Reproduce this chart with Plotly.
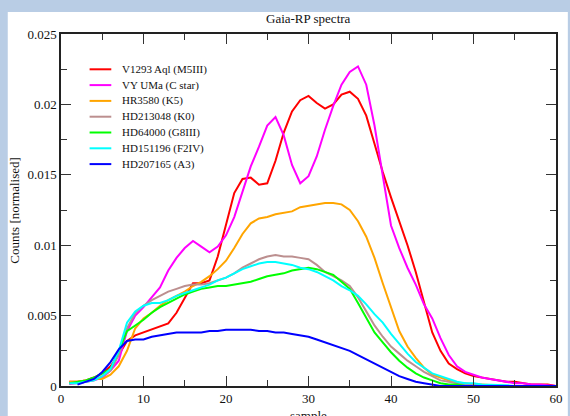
import plotly.graph_objects as go

# Sample index along the dispersed RP spectrum
sample = list(range(1, 61))

# Normalised counts per sample for each star
v1293_aql = [0.0003, 0.0003, 0.0004, 0.0006, 0.0009, 0.0014, 0.0022, 0.0032, 0.0036, 0.0038,
             0.0040, 0.0042, 0.00445, 0.0052, 0.0063, 0.0073, 0.0073, 0.0075, 0.0092, 0.0115,
             0.0137, 0.0147, 0.0148, 0.0143, 0.0144, 0.0160, 0.0180, 0.0195, 0.0203, 0.0206,
             0.0201, 0.0197, 0.0200, 0.0207, 0.0209, 0.0204, 0.0192, 0.0172, 0.0152, 0.0134,
             0.0117, 0.0100, 0.0081, 0.0060, 0.0038, 0.0025, 0.0016, 0.0012, 0.0009, 0.0007,
             0.0006, 0.0005, 0.0004, 0.0003, 0.0003, 0.0002, 0.0001, 0.0001, 0.0001, 0.0]
vy_uma = [0.00015, 0.0002, 0.0003, 0.0004, 0.0006, 0.0011, 0.0018, 0.0039, 0.0050, 0.0056,
          0.0063, 0.0070, 0.0082, 0.0091, 0.0098, 0.0103, 0.0099, 0.0095, 0.0099, 0.0107,
          0.0120, 0.0138, 0.0156, 0.0170, 0.0185, 0.0191, 0.0178, 0.0157, 0.0144, 0.0149,
          0.0163, 0.0182, 0.0199, 0.0214, 0.0223, 0.0227, 0.0214, 0.0185, 0.0148, 0.0114,
          0.0098, 0.0084, 0.0072, 0.0058, 0.0048, 0.0034, 0.0022, 0.0014, 0.0010, 0.0008,
          0.0006, 0.0005, 0.0004, 0.0003, 0.0002, 0.0002, 0.0001, 0.0001, 0.00005, 0.0]
hr3580 = [0.0003, 0.0003, 0.0004, 0.0005, 0.0005, 0.0008, 0.0014, 0.0025, 0.0041, 0.0048,
          0.0052, 0.0057, 0.0061, 0.0064, 0.0067, 0.0071, 0.0074, 0.0078, 0.0083, 0.0089,
          0.0098, 0.0108, 0.01155, 0.0119, 0.0120, 0.0122, 0.0123, 0.0124, 0.0127, 0.0128,
          0.0129, 0.0130, 0.0130, 0.0129, 0.0125, 0.0117, 0.0106, 0.0091, 0.0073, 0.0056,
          0.0039, 0.0028, 0.0020, 0.0013, 0.0008, 0.0006, 0.0004, 0.0002, 0.0002, 0.0001,
          0.0001, 0.00005, 0.0, 0.0, 0.0, 0.0, 0.0, 0.0, 0.0, 0.0]
hd213048 = [0.0002, 0.0002, 0.0003, 0.0004, 0.0007, 0.0011, 0.0022, 0.0041, 0.0052, 0.0057,
            0.0061, 0.0064, 0.0067, 0.0069, 0.0071, 0.0072, 0.0072, 0.0073, 0.0075, 0.0077,
            0.0080, 0.0084, 0.0087, 0.0090, 0.0092, 0.0093, 0.0092, 0.0092, 0.0091, 0.0090,
            0.0086, 0.0081, 0.0078, 0.0075, 0.0071, 0.0063, 0.0053, 0.0043, 0.0035, 0.0028,
            0.0023, 0.0018, 0.0014, 0.0010, 0.0007, 0.0004, 0.0003, 0.0002, 0.0001, 0.0001,
            0.00005, 0.0, 0.0, 0.0, 0.0, 0.0, 0.0, 0.0, 0.0, 0.0]
hd64000 = [0.0002, 0.0003, 0.0004, 0.0006, 0.0009, 0.0012, 0.0025, 0.0039, 0.0043, 0.0047,
           0.0052, 0.0056, 0.0059, 0.0062, 0.0065, 0.0067, 0.0069, 0.0070, 0.0071, 0.0071,
           0.0072, 0.0073, 0.0074, 0.0076, 0.0078, 0.0079, 0.0080, 0.0082, 0.0083, 0.0084,
           0.0083, 0.0081, 0.0079, 0.0074, 0.0069, 0.0059, 0.0048, 0.0038, 0.0031, 0.0024,
           0.0018, 0.0013, 0.0009, 0.0006, 0.0004, 0.0002, 0.0001, 0.0001, 0.0, 0.0,
           0.0, 0.0, 0.0, 0.0, 0.0, 0.0, 0.0, 0.0, 0.0, 0.0]
hd151196 = [0.0002, 0.0002, 0.0003, 0.0004, 0.0007, 0.0012, 0.0025, 0.0045, 0.0053, 0.0057,
            0.0059, 0.0059, 0.0061, 0.0064, 0.0066, 0.0068, 0.0070, 0.0072, 0.0075, 0.0077,
            0.0080, 0.0083, 0.0085, 0.0087, 0.0088, 0.0088, 0.0087, 0.0086, 0.0084, 0.0083,
            0.0081, 0.0078, 0.0075, 0.0071, 0.0068, 0.0064, 0.0058, 0.0051, 0.0045, 0.0037,
            0.0030, 0.0023, 0.0017, 0.0013, 0.0009, 0.0007, 0.0005, 0.0003, 0.0002, 0.0002,
            0.0001, 0.0001, 0.0001, 0.00005, 0.0, 0.0, 0.0, 0.0, 0.0, 0.0]
hd207165 = [None, 0.0001, 0.0003, 0.0005, 0.0010, 0.0017, 0.0026, 0.0032, 0.0033, 0.0033,
            0.0035, 0.0036, 0.0037, 0.0038, 0.0038, 0.0038, 0.0038, 0.0039, 0.0039, 0.0040,
            0.0040, 0.0040, 0.0040, 0.0039, 0.0039, 0.0038, 0.0038, 0.0037, 0.0036, 0.0035,
            0.0033, 0.0031, 0.0029, 0.0027, 0.0025, 0.0022, 0.0019, 0.0016, 0.0013, 0.0010,
            0.0007, 0.0005, 0.0003, 0.0002, 0.0001, 0.0, 0.0, 0.0, 0.0, 0.0,
            0.0, 0.0, 0.0, 0.0, 0.0, 0.0, 0.0, 0.0, 0.0, 0.0]

star_names = ["V1293 Aql (M5III)", "VY UMa (C star)", "HR3580 (K5)", "HD213048 (K0)",
              "HD64000 (G8III)", "HD151196 (F2IV)", "HD207165 (A3)"]
star_series = [v1293_aql, vy_uma, hr3580, hd213048, hd64000, hd151196, hd207165]
star_colors = ["#ff0000", "#ff00ff", "#ffa500", "#bc8f8f", "#00ff00", "#00ffff", "#0000ff"]

x_ticks = [0, 10, 20, 30, 40, 50, 60]
x_tick_text = ["0", "10", "20", "30", "40", "50", "60"]
y_ticks = [0, 0.005, 0.01, 0.015, 0.02, 0.025]
y_tick_text = ["0", "0.005", "0.01", "0.015", "0.02", "0.025"]

# Page geometry (pixels)
W, H = 570, 416
L, R, T, B = 61, 563, 34, 386
SERIF = "Liberation Serif"


def px_x(p):
    return (p - L) / (R - L)


def px_y(p):
    return (B - p) / (B - T)


fig = go.Figure()
for name, ys, col in zip(star_names, star_series, star_colors):
    fig.add_trace(go.Scatter(x=sample, y=ys, mode="lines", name=name,
                             line=dict(color=col, width=2), showlegend=False))

shapes = [
    # white panel over the light-blue page border
    dict(type="rect", xref="paper", yref="paper", layer="below",
         x0=px_x(7), x1=px_x(W + 5), y0=px_y(H + 5), y1=px_y(12),
         fillcolor="white", line=dict(width=0)),
]
annotations = [
    dict(text="Gaia-RP spectra", xref="paper", yref="paper", x=0.5, y=px_y(18),
         xanchor="center", yanchor="middle", showarrow=False,
         font=dict(family=SERIF, size=13, color="#111")),
    dict(text="Counts [normalised]", xref="paper", yref="paper", x=px_x(13), y=0.5,
         xanchor="center", yanchor="middle", textangle=-90, showarrow=False,
         font=dict(family=SERIF, size=13, color="#111")),
    dict(text="sample", xref="paper", yref="paper", x=0.5, y=px_y(406),
         xanchor="center", yanchor="top", showarrow=False,
         font=dict(family=SERIF, size=13, color="#111")),
]

# Legend block in the upper-left corner of the plot
for i, (name, col) in enumerate(zip(star_names, star_colors)):
    row_y = px_y(69.3 + 15.8 * i)
    shapes.append(dict(type="line", xref="paper", yref="paper",
                       x0=px_x(90), x1=px_x(112), y0=row_y, y1=row_y,
                       line=dict(color=col, width=2)))
    annotations.append(dict(text=name, xref="paper", yref="paper", x=px_x(121), y=row_y,
                            xanchor="left", yanchor="middle", showarrow=False,
                            font=dict(family=SERIF, size=11, color="#111")))

axis_common = dict(showgrid=False, zeroline=False, showline=True, linecolor="#222",
                   linewidth=1.5, mirror="allticks", ticks="inside", ticklen=10,
                   tickcolor="#333", tickwidth=1,
                   tickfont=dict(family=SERIF, size=13, color="#111"))

fig.update_layout(
    width=W, height=H,
    margin=dict(l=L, r=W - R, t=T, b=H - B, pad=0),
    paper_bgcolor="#b9cde5", plot_bgcolor="white",
    font=dict(family=SERIF),
    xaxis=dict(range=[0, 60], tickvals=x_ticks, ticktext=x_tick_text,
               minor=dict(ticks="inside", ticklen=6, dtick=5, tickcolor="#333"),
               **axis_common),
    yaxis=dict(range=[0, 0.025], tickvals=y_ticks, ticktext=y_tick_text,
               minor=dict(ticks="inside", ticklen=6, dtick=0.0025, tickcolor="#333"),
               **axis_common),
    shapes=shapes, annotations=annotations, showlegend=False,
)

fig.write_html("out.html")
